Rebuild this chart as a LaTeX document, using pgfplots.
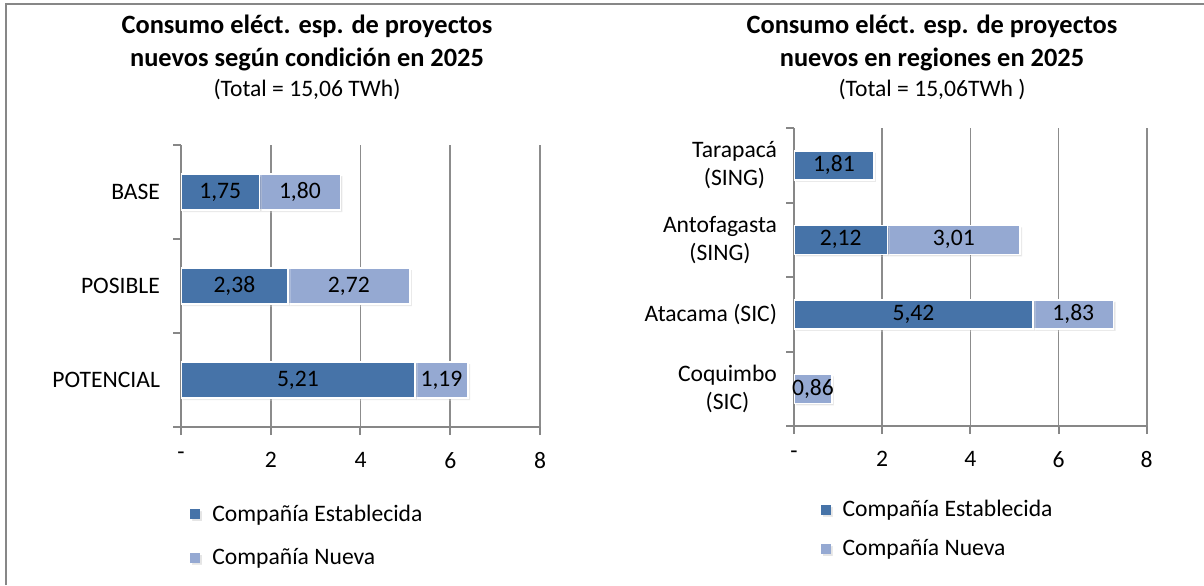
\documentclass[border=0pt]{standalone}
\usepackage{fontspec}
\setmainfont{Carlito}
\usepackage{pgfplots}
\pgfplotsset{compat=1.18}
\usepackage{pgfplotstable}
\usetikzlibrary{shadows}
\definecolor{estc}{HTML}{4673A8}
\definecolor{nuec}{HTML}{95A9D2}
\definecolor{axgray}{HTML}{878787}
\definecolor{grgray}{HTML}{8C8C8C}

\pgfplotstableread{
y est nue
0 1.75 1.80
1 2.38 2.72
2 5.21 1.19
}\condicion
\pgfplotstableread{
y est nue
0 1.81 0
1 2.12 3.01
2 5.42 1.83
3 0 0.86
}\regiones

\newcommand\lblfont{\fontsize{11.8}{14.2}\selectfont}
\pgfplotsset{
  panel/.style={
    scale only axis,
    xbar stacked,
    xmin=0, xmax=8,
    xtick={0,2,4,6,8},
    xticklabels={-,2,4,6,8},
    y dir=reverse,
    axis lines*=left,
    axis line style={axgray, line width=1pt},
    xmajorgrids,
    major x grid style={grgray, line width=0.8pt},
    tick align=outside,
    major tick length=4pt,
    minor tick length=4pt,
    major y tick style={draw=none},
    minor y tick style={axgray, line width=1pt},
    major x tick style={axgray, line width=1pt},
    tick label style={font=\lblfont, text=black},
    xticklabel style={yshift=-5pt},
    /pgf/number format/assume math mode=true,
    point meta=explicit,
    nodes near coords={\pgfmathfloatifflags{\pgfplotspointmeta}{0}{}{\pgfmathprintnumber[use comma,fixed,fixed zerofill,precision=2]{\pgfplotspointmeta}}},
    every node near coord/.append style={anchor=center, font=\lblfont, text=black},
    legend style={draw=none, fill=none, font=\lblfont, legend cell align=left, inner sep=0pt,
      nodes={inner xsep=6pt}},
  },
  sq/.style={legend image code/.code={\fill[##1,draw=none] (0pt,-2.5pt) rectangle (5pt,2.5pt);}},
}

\begin{document}
\begin{tikzpicture}
\path[use as bounding box, fill=white] (0pt,0pt) rectangle (602pt,-292.5pt);
\draw[axgray, line width=1pt] (3pt,-292.5pt) -- (3pt,-1.75pt) -- (602pt,-1.75pt);

% titles
\node[anchor=base, font=\fontsize{13.2}{15.8}\selectfont\bfseries] at (153.5pt,-16.8pt) {Consumo eléct. esp. de proyectos};
\node[anchor=base, font=\fontsize{13.2}{15.8}\selectfont\bfseries] at (153.5pt,-33.3pt) {nuevos según condición en 2025};
\node[anchor=base, font=\lblfont] at (153.5pt,-48.4pt) {(Total = 15,06 TWh)};
\node[anchor=base, font=\fontsize{13.2}{15.8}\selectfont\bfseries] at (466pt,-16.8pt) {Consumo eléct. esp. de proyectos};
\node[anchor=base, font=\fontsize{13.2}{15.8}\selectfont\bfseries] at (466pt,-33.3pt) {nuevos en regiones en 2025};
\node[anchor=base, font=\lblfont] at (466pt,-48.4pt) {(Total = 15,06TWh )};

\begin{axis}[panel,
  at={(90.5pt,-213.5pt)}, anchor=south west,
  width=179.5pt, height=141pt,
  ymin=-0.5, ymax=2.5,
  ytick={0,1,2},
  yticklabels={BASE,POSIBLE,POTENCIAL},
  yticklabel style={xshift=-3pt},
  minor ytick={-0.5,0.5,1.5,2.5},
  bar width=18pt,
  legend style={at={(axis description cs:0.025,-0.26)}, anchor=north west, row sep=8pt},
]
\addplot[fill=estc, draw=white, line width=0.75pt, sq, drop shadow={opacity=0.2, shadow xshift=1pt, shadow yshift=-1pt}] table[x=est, y=y, meta=est] {\condicion};
\addplot[fill=nuec, draw=white, line width=0.75pt, sq, drop shadow={opacity=0.2, shadow xshift=1pt, shadow yshift=-1pt}] table[x=nue, y=y, meta=nue] {\condicion};
\legend{Compañía Establecida, Compañía Nueva}
\end{axis}

\begin{axis}[panel,
  at={(397pt,-213pt)}, anchor=south west,
  width=176.35pt, height=149pt,
  ymin=-0.5, ymax=3.5,
  ytick={0,1,2,3},
  yticklabels={{Tarapacá\\(SING)},{Antofagasta\\(SING)},{Atacama (SIC)},{Coquimbo\\(SIC)}},
  yticklabel style={align=center, xshift=-1pt},
  minor ytick={-0.5,0.5,1.5,2.5,3.5},
  bar width=14.5pt,
  legend style={at={(axis description cs:0.074,-0.235)}, anchor=north west, row sep=6pt},
]
\addplot[fill=estc, draw=white, line width=0.75pt, sq, drop shadow={opacity=0.2, shadow xshift=1pt, shadow yshift=-1pt}] table[x=est, y=y, meta=est] {\regiones};
\addplot[fill=nuec, draw=white, line width=0.75pt, sq, drop shadow={opacity=0.2, shadow xshift=1pt, shadow yshift=-1pt}] table[x=nue, y=y, meta=nue] {\regiones};
\legend{Compañía Establecida, Compañía Nueva}
\end{axis}
\end{tikzpicture}
\end{document}
